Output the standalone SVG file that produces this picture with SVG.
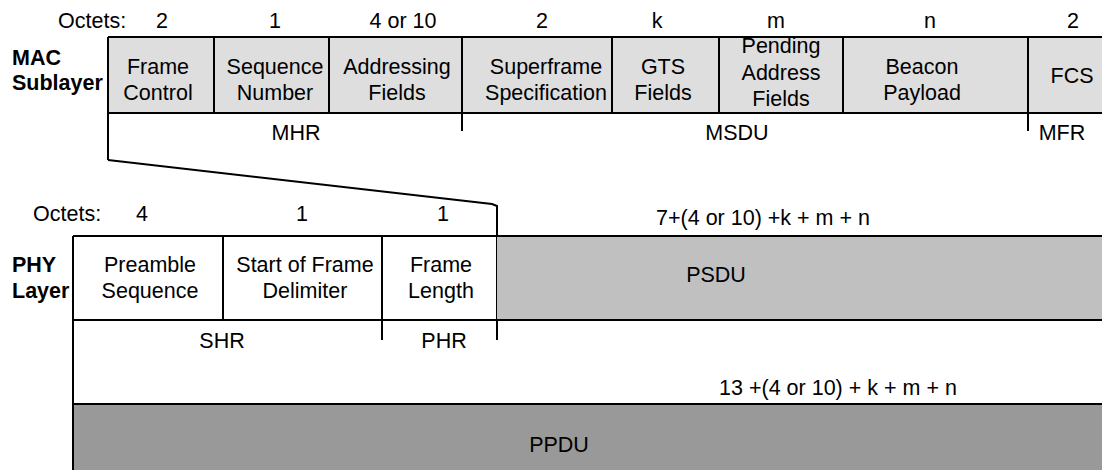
<svg xmlns="http://www.w3.org/2000/svg" width="1102" height="470" viewBox="0 0 1102 470">
<style>
text{font-family:"Liberation Sans",Arial,sans-serif;font-size:21.5px;fill:#000;text-anchor:middle}
.b{font-weight:bold;text-anchor:start}
.s{text-anchor:start}
.ln{stroke:#000;stroke-width:2;fill:none}
.mac{fill:#dedede}
.psdu{fill:#c0c0c0}
.ppdu{fill:#999999}
</style>
<rect width="1102" height="470" fill="#fff"/>
<!-- MAC header labels -->
<g id="mac-octets">
<text class="s" x="58" y="28">Octets:</text>
<text x="162" y="28">2</text>
<text x="275" y="28">1</text>
<text x="403" y="28">4 or 10</text>
<text x="542" y="28">2</text>
<text x="657" y="28">k</text>
<text x="776" y="28">m</text>
<text x="930" y="28">n</text>
<text x="1073" y="28">2</text>
</g>
<g id="mac-label">
<text class="b" x="12" y="65">MAC</text>
<text class="b" x="12" y="90">Sublayer</text>
</g>
<rect class="mac" x="108" y="37" width="994" height="76"/>
<g id="frame-control"><text x="158" y="74">Frame</text><text x="158" y="100">Control</text></g>
<g id="sequence-number"><text x="275" y="74">Sequence</text><text x="275" y="100">Number</text></g>
<g id="addressing-fields"><text x="397" y="74">Addressing</text><text x="397" y="100">Fields</text></g>
<g id="superframe-spec"><text x="546" y="74">Superframe</text><text x="546" y="100">Specification</text></g>
<g id="gts-fields"><text x="663" y="74">GTS</text><text x="663" y="100">Fields</text></g>
<g id="pending-address"><text x="781" y="53">Pending</text><text x="781" y="80">Address</text><text x="781" y="106">Fields</text></g>
<g id="beacon-payload"><text x="922" y="74">Beacon</text><text x="922" y="100">Payload</text></g>
<g id="fcs"><text x="1072" y="83">FCS</text></g>
<g id="mac-lines">
<path class="ln" d="M108 37H1102M108 113H1102M108 37V160"/>
<path class="ln" d="M214 37V113M329 37V113M462 37V131M612 37V113M719 37V113M843 37V113M1028 37V131"/>
</g>
<g id="mhr"><text x="296" y="140">MHR</text></g>
<g id="msdu"><text x="737" y="140">MSDU</text></g>
<g id="mfr"><text x="1062" y="140">MFR</text></g>
<g id="connectors">
<path class="ln" d="M108 160L492 204L497 206V340"/>
</g>
<!-- PHY -->
<g id="phy-octets">
<text class="s" x="33" y="221">Octets:</text>
<text x="142" y="221">4</text>
<text x="302" y="221">1</text>
<text x="443" y="221">1</text>
<text x="763" y="225">7+(4 or 10) +k + m + n</text>
</g>
<g id="phy-label">
<text class="b" x="12" y="272">PHY</text>
<text class="b" x="12" y="298">Layer</text>
</g>
<rect class="psdu" x="497" y="236" width="605" height="84"/>
<rect class="ppdu" x="73" y="404" width="1029" height="66"/>
<g id="preamble"><text x="150" y="272">Preamble</text><text x="150" y="298">Sequence</text></g>
<g id="sfd"><text x="305" y="272">Start of Frame</text><text x="305" y="298">Delimiter</text></g>
<g id="frame-length"><text x="441" y="272">Frame</text><text x="441" y="298">Length</text></g>
<g id="psdu"><text x="716" y="282">PSDU</text></g>
<g id="phy-lines">
<path class="ln" d="M73 236H1102M73 320H1102M73 404H1102M73 236V470M223 236V320M382 236V340"/>
</g>
<g id="shr"><text x="222" y="348">SHR</text></g>
<g id="phr"><text x="444" y="348">PHR</text></g>
<g id="ppdu-len"><text x="838" y="395">13 +(4 or 10) + k + m + n</text></g>
<g id="ppdu"><text x="559" y="452">PPDU</text></g>
</svg>
